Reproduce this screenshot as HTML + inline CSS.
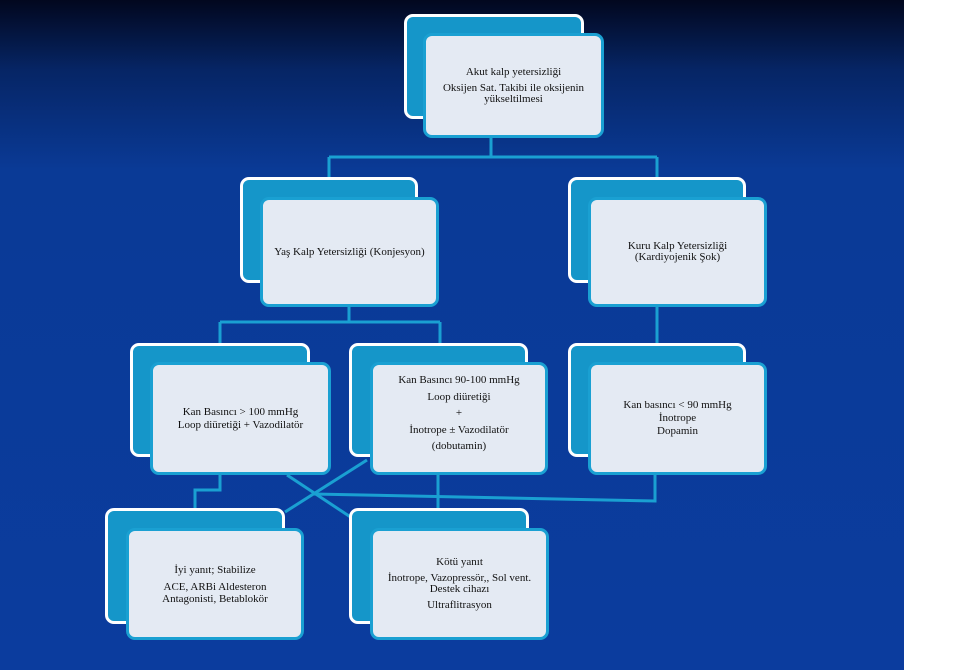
<!DOCTYPE html>
<html><head><meta charset="utf-8"><style>
body{margin:0;width:960px;height:670px;background:#fff;overflow:hidden;position:relative;font-family:"Liberation Serif",serif}
#bg{position:absolute;left:0;top:0;width:904px;height:670px;background:linear-gradient(#02071e 0px,#062565 70px,#0a3a96 170px,#0b3c9e 670px)}
.b{position:absolute;background:#1596c9;border:3px solid #fff;border-radius:9px;box-sizing:border-box}
.f{position:absolute;background:#e4eaf3;border:3px solid #1aa0d2;border-radius:9px;box-sizing:border-box;display:flex;flex-direction:column;justify-content:center;align-items:center;text-align:center;font-size:11px;line-height:13px;color:#111;padding:0 4px}
.f p{margin:2px 0}
svg{position:absolute;left:0;top:0}
</style></head><body>
<div id="bg"></div>
<svg width="960" height="670">
<g stroke="#1aa0d2" stroke-width="3" fill="none">
<path d="M491 137V157M329 157H657M329 157V178M657 157V178"/>
<path d="M349 305V322M220 322H440M220 322V344M440 322V344"/>
<path d="M657 305V344"/>
<path d="M220 474V490H195V509M438 474V509"/>
<path d="M655 474V501L313 494"/>
<path d="M285 512L367 460M287 475L352 518"/>
</g></svg>
<div class="b" style="left:404px;top:14px;width:180px;height:105px"></div>
<div class="f" style="left:423px;top:33px;width:181px;height:105px"><p>Akut kalp yetersizliği</p><p style="line-height:11px">Oksijen Sat. Takibi ile oksijenin<br>yükseltilmesi</p></div>
<div class="b" style="left:240px;top:177px;width:178px;height:106px"></div>
<div class="f" style="left:260px;top:197px;width:179px;height:110px"><p>Yaş Kalp Yetersizliği (Konjesyon)</p></div>
<div class="b" style="left:568px;top:177px;width:178px;height:106px"></div>
<div class="f" style="left:588px;top:197px;width:179px;height:110px"><p style="line-height:11px">Kuru Kalp Yetersizliği<br>(Kardiyojenik Şok)</p></div>
<div class="b" style="left:130px;top:343px;width:180px;height:114px"></div>
<div class="f" style="left:150px;top:362px;width:181px;height:113px"><p>Kan Basıncı &gt; 100 mmHg<br>Loop diüretiği + Vazodilatör</p></div>
<div class="b" style="left:349px;top:343px;width:179px;height:114px"></div>
<div class="f" style="left:370px;top:362px;width:178px;height:113px;justify-content:flex-start;padding-top:5px;line-height:16.5px"><p>Kan Basıncı 90-100 mmHg<br>Loop diüretiği<br>+<br>İnotrope ± Vazodilatör<br>(dobutamin)</p></div>
<div class="b" style="left:568px;top:343px;width:178px;height:114px"></div>
<div class="f" style="left:588px;top:362px;width:179px;height:113px"><p>Kan basıncı &lt; 90 mmHg<br>İnotrope<br>Dopamin</p></div>
<div class="b" style="left:105px;top:508px;width:180px;height:116px"></div>
<div class="f" style="left:126px;top:528px;width:178px;height:112px"><p>İyi yanıt; Stabilize</p><p style="line-height:12px">ACE, ARBi Aldesteron<br>Antagonisti, Betablokör</p></div>
<div class="b" style="left:349px;top:508px;width:180px;height:116px"></div>
<div class="f" style="left:370px;top:528px;width:179px;height:112px"><p>Kötü yanıt</p><p style="line-height:11px">İnotrope, Vazopressör,, Sol vent.<br>Destek cihazı</p><p>Ultraflitrasyon</p></div>
</body></html>
